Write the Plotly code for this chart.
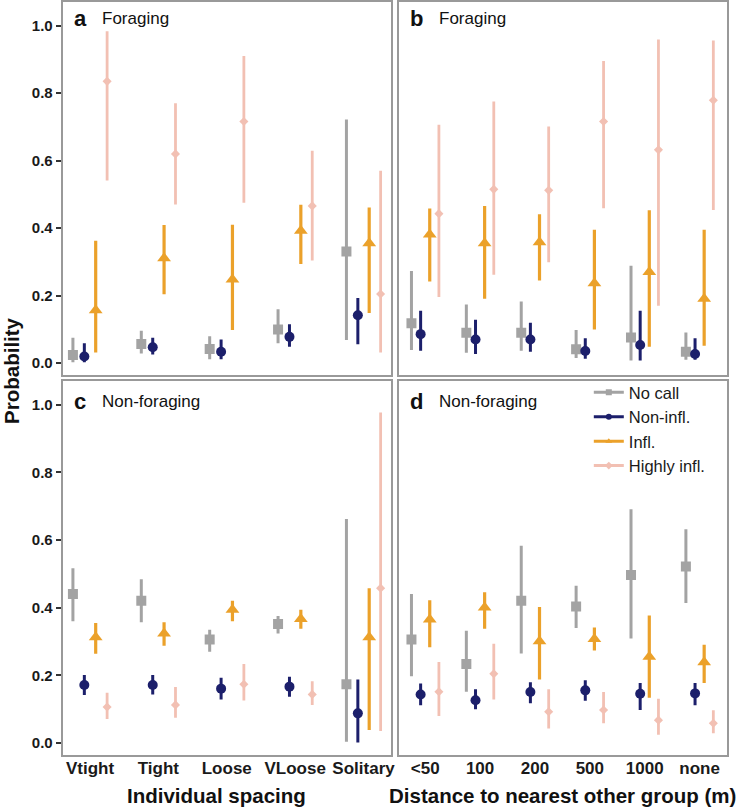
import plotly.graph_objects as go

W, H = 742, 808

spacing_cats = ["Vtight", "Tight", "Loose", "VLoose", "Solitary"]
distance_cats = ["<50", "100", "200", "500", "1000", "none"]

series_names = ["No call", "Non-infl.", "Infl.", "Highly infl."]

# Panel a: Foraging, individual spacing (est, lower, upper)
a_nocall = [0.024, 0.057, 0.042, 0.100, 0.331]
a_nocall_lo = [0.003, 0.029, 0.012, 0.059, 0.069]
a_nocall_hi = [0.075, 0.096, 0.080, 0.160, 0.722]
a_noninfl = [0.020, 0.047, 0.034, 0.078, 0.142]
a_noninfl_lo = [0.003, 0.026, 0.012, 0.049, 0.056]
a_noninfl_hi = [0.059, 0.075, 0.070, 0.115, 0.193]
a_infl = [0.157, 0.311, 0.248, 0.392, 0.355]
a_infl_lo = [0.032, 0.204, 0.098, 0.294, 0.149]
a_infl_hi = [0.363, 0.409, 0.410, 0.469, 0.461]
a_high = [0.835, 0.620, 0.716, 0.466, 0.205]
a_high_lo = [0.541, 0.470, 0.475, 0.304, 0.032]
a_high_hi = [0.983, 0.770, 0.910, 0.629, 0.570]

# Panel b: Foraging, distance to nearest other group
b_nocall = [0.118, 0.090, 0.090, 0.041, 0.076, 0.034]
b_nocall_lo = [0.039, 0.031, 0.037, 0.015, 0.008, 0.010]
b_nocall_hi = [0.273, 0.174, 0.183, 0.098, 0.289, 0.091]
b_noninfl = [0.086, 0.070, 0.070, 0.036, 0.054, 0.027]
b_noninfl_lo = [0.037, 0.027, 0.034, 0.013, 0.008, 0.010]
b_noninfl_hi = [0.155, 0.129, 0.120, 0.074, 0.155, 0.074]
b_infl = [0.381, 0.355, 0.358, 0.237, 0.270, 0.191]
b_infl_lo = [0.242, 0.191, 0.245, 0.100, 0.049, 0.052]
b_infl_hi = [0.458, 0.466, 0.441, 0.395, 0.453, 0.395]
b_high = [0.443, 0.515, 0.512, 0.716, 0.632, 0.779]
b_high_lo = [0.196, 0.262, 0.299, 0.459, 0.170, 0.454]
b_high_hi = [0.706, 0.775, 0.701, 0.895, 0.959, 0.956]

# Panel c: Non-foraging, individual spacing
c_nocall = [0.441, 0.421, 0.306, 0.352, 0.174]
c_nocall_lo = [0.360, 0.357, 0.270, 0.324, 0.004]
c_nocall_hi = [0.517, 0.484, 0.335, 0.376, 0.662]
c_noninfl = [0.172, 0.172, 0.161, 0.167, 0.088]
c_noninfl_lo = [0.142, 0.144, 0.129, 0.137, 0.002]
c_noninfl_hi = [0.201, 0.201, 0.193, 0.196, 0.188]
c_infl = [0.313, 0.324, 0.394, 0.367, 0.313]
c_infl_lo = [0.264, 0.288, 0.360, 0.338, 0.039]
c_infl_hi = [0.355, 0.357, 0.421, 0.394, 0.458]
c_high = [0.107, 0.113, 0.174, 0.144, 0.458]
c_high_lo = [0.071, 0.075, 0.126, 0.113, 0.036]
c_high_hi = [0.149, 0.166, 0.234, 0.183, 0.977]

# Panel d: Non-foraging, distance to nearest other group
d_nocall = [0.306, 0.234, 0.421, 0.404, 0.497, 0.522]
d_nocall_lo = [0.198, 0.152, 0.265, 0.340, 0.309, 0.414]
d_nocall_hi = [0.441, 0.332, 0.583, 0.465, 0.691, 0.632]
d_noninfl = [0.144, 0.127, 0.151, 0.156, 0.146, 0.147]
d_noninfl_lo = [0.112, 0.100, 0.118, 0.125, 0.098, 0.112]
d_noninfl_hi = [0.176, 0.159, 0.180, 0.186, 0.178, 0.178]
d_infl = [0.365, 0.401, 0.301, 0.308, 0.255, 0.239]
d_infl_lo = [0.283, 0.338, 0.188, 0.274, 0.134, 0.178]
d_infl_hi = [0.422, 0.446, 0.402, 0.342, 0.377, 0.291]
d_high = [0.152, 0.205, 0.093, 0.098, 0.068, 0.059]
d_high_lo = [0.080, 0.129, 0.043, 0.059, 0.025, 0.029]
d_high_hi = [0.240, 0.294, 0.159, 0.151, 0.131, 0.097]

colors = ["#a3a3a3", "#1c1f6b", "#eba12a", "#f2c0b3"]
symbols = ["square", "circle", "triangle-up", "diamond"]
msizes = [10, 10, 12, 7]
ethick = [3, 3, 3.2, 2.8]
offsets = [-0.25, -0.083, 0.083, 0.25]

panels = [
    ("x", "y", [(a_nocall, a_nocall_lo, a_nocall_hi), (a_noninfl, a_noninfl_lo, a_noninfl_hi),
                (a_infl, a_infl_lo, a_infl_hi), (a_high, a_high_lo, a_high_hi)]),
    ("x2", "y2", [(b_nocall, b_nocall_lo, b_nocall_hi), (b_noninfl, b_noninfl_lo, b_noninfl_hi),
                  (b_infl, b_infl_lo, b_infl_hi), (b_high, b_high_lo, b_high_hi)]),
    ("x3", "y3", [(c_nocall, c_nocall_lo, c_nocall_hi), (c_noninfl, c_noninfl_lo, c_noninfl_hi),
                  (c_infl, c_infl_lo, c_infl_hi), (c_high, c_high_lo, c_high_hi)]),
    ("x4", "y4", [(d_nocall, d_nocall_lo, d_nocall_hi), (d_noninfl, d_noninfl_lo, d_noninfl_hi),
                  (d_infl, d_infl_lo, d_infl_hi), (d_high, d_high_lo, d_high_hi)]),
]

fig = go.Figure()
for xa, ya, data in panels:
    for s, (est, lo, hi) in enumerate(data):
        xs = [i + offsets[s] for i in range(len(est))]
        fig.add_trace(go.Scatter(
            x=xs, y=est, xaxis=xa, yaxis=ya, mode="markers",
            marker=dict(symbol=symbols[s], size=msizes[s], color=colors[s]),
            error_y=dict(type="data", symmetric=False,
                         array=[h - e for h, e in zip(hi, est)],
                         arrayminus=[e - l for e, l in zip(est, lo)],
                         color=colors[s], thickness=ethick[s], width=0),
            showlegend=False, hoverinfo="skip"))

# legend entries
for s in range(4):
    fig.add_trace(go.Scatter(
        x=[None], y=[None], xaxis="x4", yaxis="y4", mode="lines+markers",
        name=series_names[s],
        line=dict(color=colors[s], width=3),
        marker=dict(symbol=symbols[s], size=6, color=colors[s]),
        showlegend=True))


def px_x(v):
    return v / W


def px_y(v):
    return 1 - v / H


xl = [px_x(63), px_x(393)]
xr = [px_x(401), px_x(731)]
yt = [px_y(375), px_y(2)]
yb = [px_y(755), px_y(381)]

tickfont = dict(family="Liberation Sans", size=15, color="#1a1a1a")
yrange = [-0.035, 1.07]
common_x = dict(showgrid=False, zeroline=False, showline=True, linecolor="#999999", linewidth=2,
                mirror=True, ticks="", ticklabelstandoff=-3,
                tickfont=dict(family="Liberation Sans", size=17, color="#1a1a1a"))
common_y = dict(showgrid=False, zeroline=False, showline=True, linecolor="#999999", linewidth=2,
                mirror=True, ticks="outside", ticklen=5, tickwidth=1.5, tickcolor="#333333",
                range=yrange, tickvals=[0, 0.2, 0.4, 0.6, 0.8, 1.0])
ytext = ["<b>%.1f</b>" % v for v in [0, 0.2, 0.4, 0.6, 0.8, 1.0]]

fig.update_layout(
    width=W, height=H, margin=dict(l=0, r=0, t=0, b=0),
    paper_bgcolor="white", plot_bgcolor="white",
    font=dict(family="Liberation Sans", color="#1a1a1a"),
    xaxis=dict(domain=xl, anchor="y", range=[-0.4, 4.4], showticklabels=False, **common_x),
    xaxis2=dict(domain=xr, anchor="y2", range=[-0.48, 5.5], showticklabels=False, **common_x),
    xaxis3=dict(domain=xl, anchor="y3", range=[-0.4, 4.4], tickvals=list(range(len(spacing_cats))),
                ticktext=["<b>%s</b>" % c for c in spacing_cats], **common_x),
    xaxis4=dict(domain=xr, anchor="y4", range=[-0.48, 5.5], tickvals=list(range(len(distance_cats))),
                ticktext=["<b>%s</b>" % c.replace("<", "&lt;") for c in distance_cats], **common_x),
    yaxis=dict(domain=yt, anchor="x", ticktext=ytext, tickfont=tickfont, **common_y),
    yaxis2=dict(domain=yt, anchor="x2", showticklabels=False, **{**common_y, "ticks": ""}),
    yaxis3=dict(domain=yb, anchor="x3", ticktext=ytext, tickfont=tickfont, **common_y),
    yaxis4=dict(domain=yb, anchor="x4", showticklabels=False, **{**common_y, "ticks": ""}),
    legend=dict(x=px_x(592), y=px_y(375), xanchor="left", yanchor="top",
                bgcolor="rgba(0,0,0,0)", font=dict(family="Liberation Sans", size=16.5, color="#1a1a1a"),
                tracegroupgap=0, itemwidth=30),
)

ann = []
for letter, title, xp, yp in [("a", "Foraging", 72, 18), ("b", "Foraging", 410, 18),
                              ("c", "Non-foraging", 72, 401), ("d", "Non-foraging", 410, 401)]:
    ann.append(dict(text="<b>%s</b>" % letter, x=px_x(xp), y=px_y(yp), xref="paper", yref="paper",
                    xanchor="left", yanchor="middle", showarrow=False,
                    font=dict(family="Liberation Sans", size=22, color="#111111")))
    ann.append(dict(text=title, x=px_x(xp + 29), y=px_y(yp), xref="paper", yref="paper",
                    xanchor="left", yanchor="middle", showarrow=False,
                    font=dict(family="Liberation Sans", size=17, color="#111111")))

ann.append(dict(text="<b>Probability</b>", x=px_x(12), y=px_y(370), xref="paper", yref="paper",
                xanchor="center", yanchor="middle", textangle=-90, showarrow=False,
                font=dict(family="Liberation Sans", size=20.5, color="#111111")))
ann.append(dict(text="<b>Individual spacing</b>", x=px_x(218), y=px_y(795), xref="paper", yref="paper",
                xanchor="center", yanchor="middle", showarrow=False,
                font=dict(family="Liberation Sans", size=20.5, color="#111111")))
ann.append(dict(text="<b>Distance to nearest other group (m)</b>", x=px_x(566), y=px_y(795),
                xref="paper", yref="paper", xanchor="center", yanchor="middle", showarrow=False,
                font=dict(family="Liberation Sans", size=20.5, color="#111111")))
fig.update_layout(annotations=ann)

fig.write_html("out.html", config={"displayModeBar": False},
               post_script="document.body.style.margin='0px';")
